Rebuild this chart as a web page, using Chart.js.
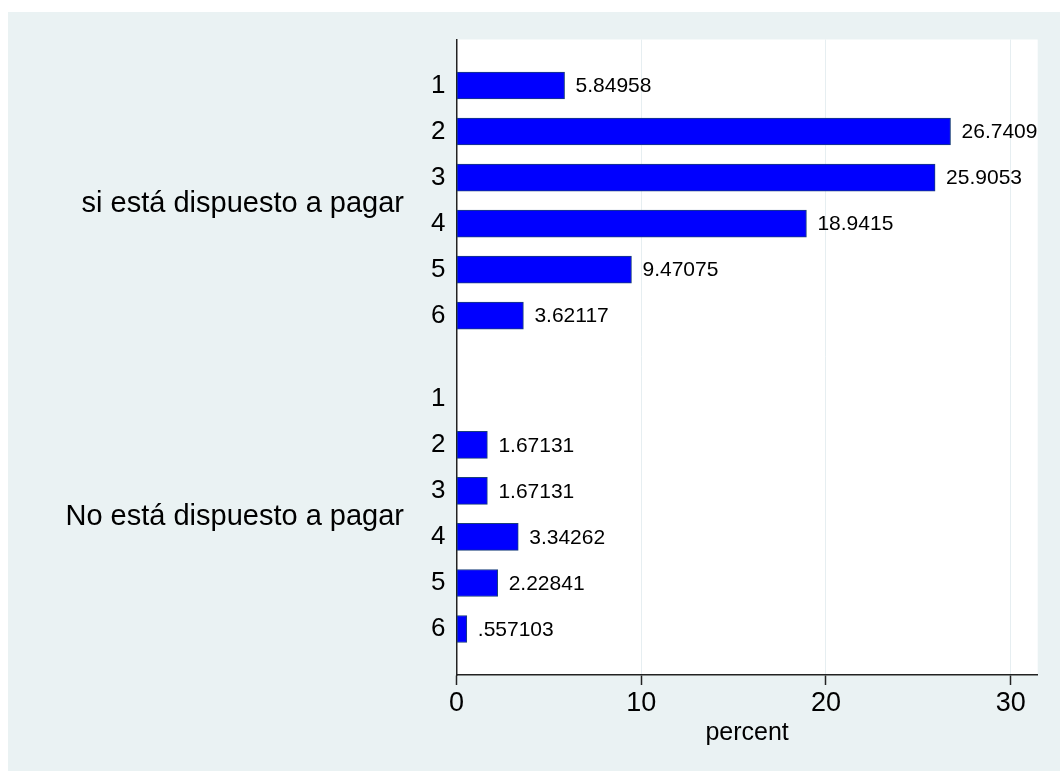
<!DOCTYPE html>
<html>
<head>
<meta charset="utf-8">
<script src="https://cdn.jsdelivr.net/npm/chart.js@4/dist/chart.umd.min.js"></script>
<style>
  html, body { margin: 0; padding: 0; background: #ffffff; }
  canvas { display: block; }
</style>
</head>
<body>
<canvas id="c" width="1060" height="771"></canvas>
<script>
// ---- data ----
const groups = ['si está dispuesto a pagar', 'No está dispuesto a pagar'];
const categories = ['1', '2', '3', '4', '5', '6'];
const siValues = [5.84958, 26.7409, 25.9053, 18.9415, 9.47075, 3.62117];
const noValues = [null, 1.67131, 1.67131, 3.34262, 2.22841, 0.557103];
const xTickValues = [0, 10, 20, 30];
const xTitle = 'percent';

// ---- layout constants ----
const GROUP_GAP = 0.81;
const FONT = "'Liberation Sans', Arial, Helvetica, sans-serif";
const groupValues = [siValues, noValues];

// build points: slot positions from group/category index
const points = [];
const yTickPos = [];
const yTickLab = [];
groupValues.forEach((vals, g) => {
  categories.forEach((cat, i) => {
    const pos = g * (categories.length + GROUP_GAP) + i;
    yTickPos.push(pos);
    yTickLab.push(cat);
    if (vals[i] !== null) points.push({ x: vals[i], y: pos });
  });
});

function fmt(v) {
  let s = Number(v).toPrecision(6);
  if (s.indexOf('.') >= 0) s = s.replace(/0+$/, '').replace(/\.$/, '');
  if (s.startsWith('0.')) s = s.slice(1);
  return s;
}

const bgPlugin = {
  id: 'bg',
  beforeDraw(chart) {
    const ctx = chart.ctx;
    const a = chart.chartArea;
    ctx.save();
    ctx.fillStyle = '#ffffff';
    ctx.fillRect(0, 0, chart.width, chart.height);
    ctx.fillStyle = '#eaf2f3';
    ctx.fillRect(8, 12, chart.width - 8, chart.height - 12);
    ctx.fillStyle = '#ffffff';
    ctx.fillRect(a.left, a.top, a.right - a.left, a.bottom - a.top);
    ctx.restore();
  },
  afterDatasetsDraw(chart) {
    const ctx = chart.ctx;
    const meta = chart.getDatasetMeta(0);
    ctx.save();
    ctx.fillStyle = '#000000';
    ctx.font = '21px ' + FONT;
    ctx.textAlign = 'left';
    ctx.textBaseline = 'middle';
    meta.data.forEach((el, i) => {
      const v = chart.data.datasets[0].data[i].x;
      ctx.fillText(fmt(v), el.x + 11, el.y + 1);
    });
    // group labels
    const ys = chart.scales.y;
    ctx.font = '29px ' + FONT;
    ctx.textAlign = 'right';
    groups.forEach((name, g) => {
      const first = g * (categories.length + GROUP_GAP);
      const mid = first + (categories.length - 1) / 2;
      ctx.fillText(name, 404, ys.getPixelForValue(mid) + 3);
    });
    ctx.restore();
  }
};

new Chart(document.getElementById('c'), {
  type: 'bar',
  data: {
    datasets: [{
      data: points,
      backgroundColor: '#0000ff',
      borderColor: '#1a3f7a',
      borderWidth: 1,
      borderSkipped: false,
      barThickness: 27
    }]
  },
  plugins: [bgPlugin],
  options: {
    indexAxis: 'y',
    responsive: false,
    animation: false,
    devicePixelRatio: 1,
    layout: { padding: { top: 39.5, right: 22.3, left: 0, bottom: 0 } },
    plugins: { legend: { display: false }, tooltip: { enabled: false } },
    scales: {
      x: {
        type: 'linear',
        position: 'bottom',
        min: 0,
        max: 31.46,
        afterBuildTicks: (s) => { s.ticks = xTickValues.map(v => ({ value: v })); },
        afterFit: (s) => { s.height = 96; },
        ticks: {
          color: '#000000',
          font: { family: FONT, size: 27 },
          padding: 2,
          callback: (v) => String(v)
        },
        grid: {
          color: '#e6eef1',
          lineWidth: 1,
          drawTicks: true,
          tickLength: 10,
          tickColor: '#222222',
          tickWidth: 1.5
        },
        border: { display: true, color: '#222222', width: 1.5 },
        title: {
          display: true,
          text: xTitle,
          color: '#000000',
          font: { family: FONT, size: 25 },
          padding: { top: 0, bottom: 23 }
        }
      },
      y: {
        type: 'linear',
        position: 'left',
        reverse: true,
        offset: false,
        min: -1,
        max: 12.81,
        afterBuildTicks: (s) => { s.ticks = yTickPos.map(v => ({ value: v })); },
        afterFit: (s) => { s.width = 456.5; },
        ticks: {
          color: '#000000',
          font: { family: FONT, size: 26 },
          padding: 11,
          autoSkip: false,
          callback: (v, i) => yTickLab[i]
        },
        grid: { display: false, drawTicks: false, offset: false },
        border: { display: true, color: '#222222', width: 1.5 }
      }
    }
  }
});
</script>
</body>
</html>
